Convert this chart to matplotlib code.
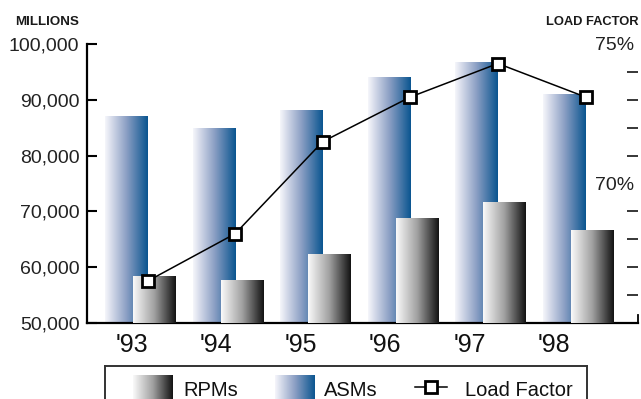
import matplotlib
matplotlib.use("Agg")
import matplotlib.pyplot as plt
import numpy as np
from matplotlib.colors import LinearSegmentedColormap
from matplotlib.ticker import FuncFormatter

plt.rcParams['font.family'] = ['Liberation Sans', 'DejaVu Sans']

# traffic figures, millions
years = ["'93", "'94", "'95", "'96", "'97", "'98"]
asms = [87100, 85000, 88200, 94100, 96700, 91100]
rpms = [58400, 57700, 62400, 68900, 71700, 66700]
# load factor, percent
load_factor = [66.5, 68.2, 71.5, 73.1, 74.3, 73.1]

blue_grad = LinearSegmentedColormap.from_list("asm", ["#f6f6fb", "#8c9fc4", "#0a5590"])
gray_grad = LinearSegmentedColormap.from_list("rpm", ["#fafafa", "#a0a0a0", "#121212"])
ramp = np.linspace(0, 1, 256).reshape(1, -1)


def gradient_bars(ax, bars, cmap):
    # fill each bar with a left-to-right ramp clipped to the bar outline,
    # cut at the bottom of the visible range
    ymin = ax.get_ylim()[0]
    for b in bars:
        x0, y0 = b.get_x(), max(b.get_y(), ymin)
        w, top = b.get_width(), b.get_y() + b.get_height()
        im = ax.imshow(ramp, cmap=cmap, aspect='auto', extent=(x0, x0 + w, y0, top),
                       zorder=b.get_zorder(), interpolation='bilinear')
        im.set_clip_path(b)


fig = plt.figure(figsize=(6.41, 3.99), dpi=100)
W, H = 641, 399
ax = fig.add_axes([87 / W, (H - 323) / H, (638 - 87) / W, (323 - 44) / H])

x = np.arange(len(years))
bw = 0.49
ax.set_xlim(-0.611, 5.679)
ax.set_ylim(50000, 100000)
asm_bars = ax.bar(x - 0.16, asms, bw, color='none', edgecolor='none', zorder=2)
rpm_bars = ax.bar(x + 0.16, rpms, bw, color='none', edgecolor='none', zorder=3)
gradient_bars(ax, asm_bars, blue_grad)
gradient_bars(ax, rpm_bars, gray_grad)

ax.set_xlim(-0.611, 5.679)
ax.set_ylim(50000, 100000)
ax.set_yticks(np.arange(50000, 100001, 10000))
ax.yaxis.set_major_formatter(FuncFormatter(lambda v, p: f"{int(v):,}"))
# year labels sit a little tighter than the bar groups
ax.set_xticks(x * 0.965 - 0.1)
ax.set_xticklabels(years)
ax.tick_params(axis='y', direction='in', length=7.5, width=1.5, pad=5.5,
               labelsize=14, labelcolor='#222222')
ax.tick_params(axis='x', length=0, pad=7.5, labelsize=18, labelcolor='#111111')
for s in ['top', 'right']:
    ax.spines[s].set_visible(False)
ax.spines['left'].set_linewidth(1.6)
ax.spines['bottom'].set_linewidth(1.6)

# right axis for load factor
ax2 = ax.twinx()
ax2.set_ylim(65, 75)
ax2.plot(x + 0.08, load_factor, color='black', lw=1.1, marker='s', markersize=8,
         markerfacecolor='white', markeredgecolor='black', markeredgewidth=2, zorder=5)
ax2.set_yticks([70, 75])
ax2.set_yticklabels(['70%', '75%'])
ax2.set_yticks([66, 67, 68, 69, 71, 72, 73, 74], minor=True)
ax2.tick_params(axis='y', which='major', length=0, pad=-3, labelsize=14, labelcolor='#222222')
ax2.tick_params(axis='y', which='minor', direction='in', length=7.8, width=1.1)
for lab in ax2.get_yticklabels():
    lab.set_horizontalalignment('right')
for s in ['top', 'left', 'bottom']:
    ax2.spines[s].set_visible(False)
ax2.spines['right'].set_bounds(65, 65.28)
ax2.spines['right'].set_linewidth(1.3)

fig.text(15 / W, 1 - 22 / H, "MILLIONS", ha='left', va='center', fontsize=9.6,
         fontweight='bold', color='#1a1a1a')
fig.text(638 / W, 1 - 22 / H, "LOAD FACTOR", ha='right', va='center', fontsize=9.3,
         fontweight='bold', color='#1a1a1a')

# legend box, running off the bottom edge
lg = fig.add_axes([105 / W, -20 / H, (587 - 105) / W, (419 - 366) / H])
lg.set_xticks([])
lg.set_yticks([])
lg.spines['bottom'].set_visible(False)
for s in ['top', 'left', 'right']:
    lg.spines[s].set_color('#333333')
    lg.spines[s].set_linewidth(1.4)
lg.imshow(ramp, cmap=gray_grad, aspect='auto', extent=(133, 173, 419, 375), interpolation='bilinear')
lg.imshow(ramp, cmap=blue_grad, aspect='auto', extent=(275, 315, 419, 375), interpolation='bilinear')
lg.plot([415, 447], [387, 387], color='black', lw=1.1)
lg.plot([431], [387], marker='s', markersize=8, markerfacecolor='white',
        markeredgecolor='black', markeredgewidth=2, lw=0)
lg.set_xlim(105, 587)
lg.set_ylim(419, 366)
lg.text(183, 396.5, "RPMs", fontsize=14.5, va='baseline', color='#111111')
lg.text(324, 396.5, "ASMs", fontsize=14.5, va='baseline', color='#111111')
lg.text(465, 396.5, "Load Factor", fontsize=14.5, va='baseline', color='#111111')

fig.savefig("out.png", dpi=100)
